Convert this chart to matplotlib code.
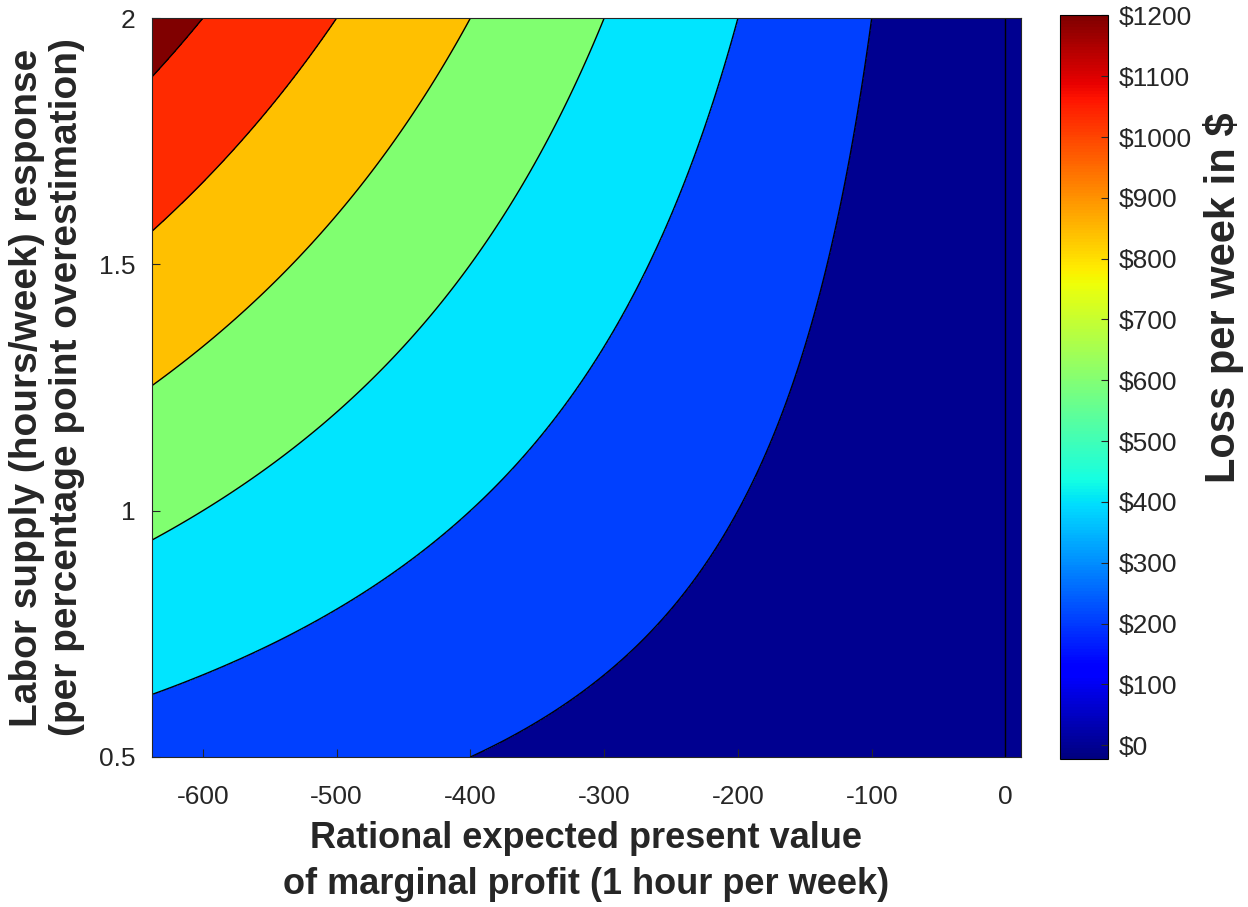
import matplotlib
matplotlib.use("Agg")
import matplotlib.pyplot as plt
import numpy as np

plt.rcParams['font.family'] = ['Liberation Sans', 'DejaVu Sans']
plt.rcParams['axes.unicode_minus'] = False

# axis ranges of the grid (marginal profit, labor supply response)
profit_range = [-638, 11.5]
labor_range = [0.5, 2.0]
# contour levels of weekly loss in $
levels = [0, 200, 400, 600, 800, 1000, 1200]
fill_colors = ['#000090', '#0040ff', '#00e5ff', '#80ff70', '#ffc000', '#ff2a00', '#800000']
xticks = [-600, -500, -400, -300, -200, -100, 0]
yticks = [0.5, 1, 1.5, 2]
cbar_ticks = [0, 100, 200, 300, 400, 500, 600, 700, 800, 900, 1000, 1100, 1200]

x = np.linspace(profit_range[0], profit_range[1], 600)
y = np.linspace(labor_range[0], labor_range[1], 400)
X, Y = np.meshgrid(x, y)
Z = -X * Y  # loss per week

fig = plt.figure(figsize=(12.48, 9.07), dpi=100)
ax = fig.add_axes([0.1218, 0.1654, 0.818 - 0.1218, 0.980 - 0.1654])

fill_levels = [Z.min()] + levels[1:] + [Z.max()]
ax.contourf(X, Y, Z, levels=fill_levels, colors=fill_colors)
ax.contour(X, Y, Z, levels=levels, colors='k', linewidths=1.0)

ax.set_xlim(profit_range)
ax.set_ylim(labor_range)
ax.set_xticks(xticks)
ax.set_yticks(yticks)
ax.set_yticklabels(['0.5', '1', '1.5', '2'])
ax.tick_params(direction='in', length=6, labelsize=19, colors='#262626', pad=12)
ax.tick_params(axis='x', pad=20)
for s in ax.spines.values():
    s.set_linewidth(0.8)
    s.set_color('#262626')

ax.set_xlabel('Rational expected present value\nof marginal profit (1 hour per week)',
              fontsize=26, fontweight='bold', color='#262626', labelpad=9, linespacing=1.4)
ax.set_ylabel('Labor supply (hours/week) response\n(per percentage point overestimation)',
              fontsize=28, fontweight='bold', color='#262626', labelpad=10, linespacing=1.15)

cax = fig.add_axes([0.849, 0.163, 0.0385, 0.983 - 0.163])
sm = plt.cm.ScalarMappable(cmap='jet', norm=plt.Normalize(Z.min(), 1200))
cb = fig.colorbar(sm, cax=cax)
cb.set_ticks(cbar_ticks)
cb.set_ticklabels(['$' + str(t) for t in cbar_ticks])
cb.ax.tick_params(direction='in', length=5, labelsize=19, colors='#262626', pad=8)
cb.outline.set_linewidth(0.8)
cb.set_label('Loss per week in \\$', fontsize=30, fontweight='bold', color='#262626')
cb.ax.yaxis.set_label_coords(2.98, 0.62)

fig.savefig('out.png', dpi=100)
